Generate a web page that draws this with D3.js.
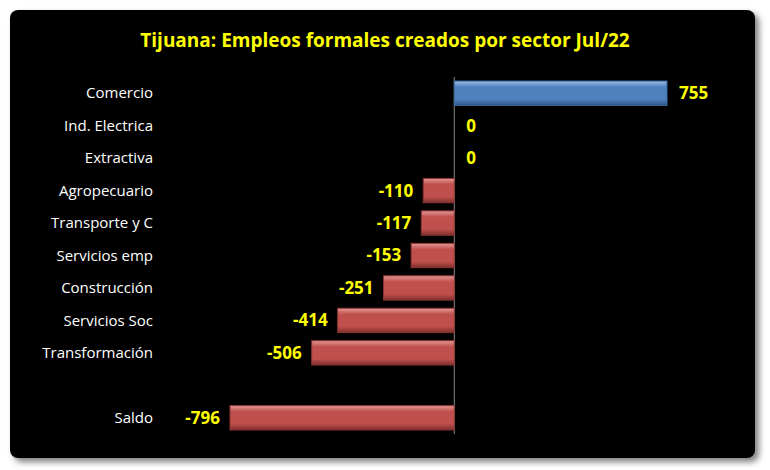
<!DOCTYPE html>
<html><head><meta charset="utf-8">
<script src="https://cdn.jsdelivr.net/npm/d3@7"></script>
<style>body{margin:0;background:#fff}</style>
</head><body>
<script>
const categories = ["Comercio","Ind. Electrica","Extractiva","Agropecuario","Transporte y C","Servicios emp","Construcción","Servicios Soc","Transformación","","Saldo"];
const values = [755,0,0,-110,-117,-153,-251,-414,-506,null,-796];
const title = "Tijuana: Empleos formales creados por sector Jul/22";

const W=770,H=470;
const svg=d3.select("body").append("svg").attr("width",W).attr("height",H);
const defs=svg.append("defs");
const f=defs.append("filter").attr("id","sh").attr("x","-5%").attr("y","-5%").attr("width","115%").attr("height","115%");
f.append("feDropShadow").attr("dx",4).attr("dy",4).attr("stdDeviation",3).attr("flood-color","#000").attr("flood-opacity",0.5);
function grad(id,light,mid,dark){
  const g=defs.append("linearGradient").attr("id",id).attr("x1",0).attr("y1",0).attr("x2",0).attr("y2",1);
  g.append("stop").attr("offset","0%").attr("stop-color",light);
  g.append("stop").attr("offset","25%").attr("stop-color",mid);
  g.append("stop").attr("offset","75%").attr("stop-color",mid);
  g.append("stop").attr("offset","100%").attr("stop-color",dark);
}
grad("gb","#9dbbe6","#4f81bd","#2d5586");
grad("gr","#e39a98","#c0504d","#7e2f2d");

svg.append("rect").attr("x",10).attr("y",10).attr("width",745).attr("height",448).attr("rx",8)
  .attr("fill","#000").attr("filter","url(#sh)");

svg.append("text").attr("x",385).attr("y",47).attr("text-anchor","middle")
  .attr("font-family","Open Sans, sans-serif").attr("font-weight","bold").attr("font-size",19)
  .attr("fill","#ffff00").text(title);

const x=d3.scaleLinear().domain([-796,755]).range([230,667]);
const y=d3.scaleBand().domain(d3.range(categories.length)).range([77,434]).paddingInner(0.25).paddingOuter(0.125);

svg.append("line").attr("x1",x(0)).attr("x2",x(0)).attr("y1",77).attr("y2",434).attr("stroke","#888").attr("stroke-width",1);

const rows=svg.selectAll("g.r").data(categories.map((c,i)=>({c,v:values[i],i}))).enter().append("g");
rows.append("text").attr("x",153).attr("y",d=>y(d.i)+y.bandwidth()/2).attr("dy","0.35em")
  .attr("text-anchor","end").attr("fill","#fff").attr("font-family","Open Sans, sans-serif").attr("font-size",15)
  .text(d=>d.c);
rows.filter(d=>d.v).append("rect")
  .attr("x",d=>x(Math.min(0,d.v))).attr("width",d=>Math.abs(x(d.v)-x(0)))
  .attr("y",d=>y(d.i)).attr("height",y.bandwidth())
  .attr("fill",d=>d.v>0?"url(#gb)":"url(#gr)").attr("stroke",d=>d.v>0?"#3a6aa3":"#8e3532").attr("stroke-width",1);
rows.filter(d=>d.v!==null).append("text")
  .attr("x",d=>d.v>=0?x(d.v)+12:x(d.v)-10).attr("y",d=>y(d.i)+y.bandwidth()/2).attr("dy","0.35em")
  .attr("text-anchor",d=>d.v>=0?"start":"end").attr("fill","#ffff00")
  .attr("font-family","Open Sans, sans-serif").attr("font-weight","bold").attr("font-size",17)
  .text(d=>d.v);
</script>
</body></html>
